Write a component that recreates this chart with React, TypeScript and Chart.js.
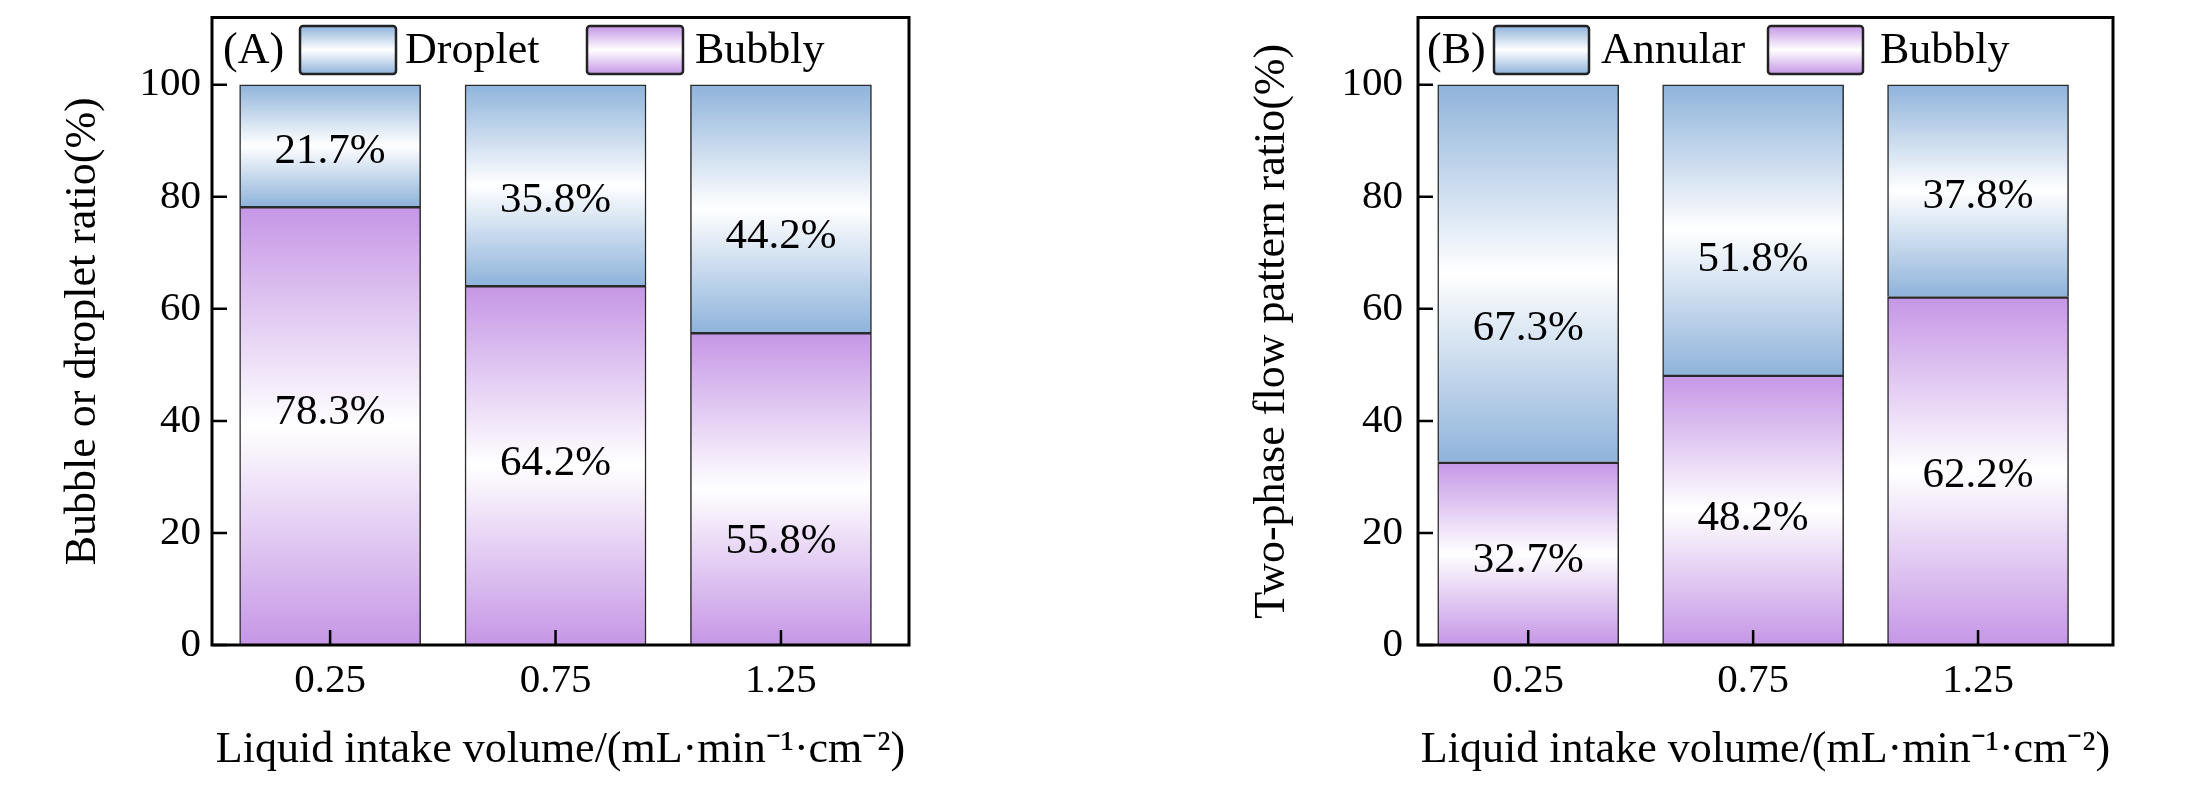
import { useEffect, useRef } from 'react';
import { Chart, registerables } from 'chart.js';

Chart.register(...registerables);

// x positions (liquid intake volume) and how they are printed
const categories = [0.25, 0.75, 1.25];
const categoryLabels = ['0.25', '0.75', '1.25'];

// (A) bubble / droplet ratio, %
const dropletA = [21.7, 35.8, 44.2];
const bubblyA = [78.3, 64.2, 55.8];
// (B) two-phase flow pattern ratio, %
const annularB = [67.3, 51.8, 37.8];
const bubblyB = [32.7, 48.2, 62.2];

// height (in % units) where each percentage text sits
const dropletTextA = [88, 79.3, 72.8];
const bubblyTextA = [41.4, 32.3, 18.5];
const annularTextB = [56.5, 68.7, 80];
const bubblyTextB = [15, 22.6, 30.3];

const SERIF = '"Liberation Serif", "Times New Roman", serif';
const BLUE = '#8fb3db';
const PURPLE = '#c596e6';

interface PanelProps {
  left: number;
  width: number;
  tag: string;
  upperName: string;
  upper: number[];
  upperText: number[];
  lower: number[];
  lowerText: number[];
  yTitle: string;
  xMin: number;
  xMax: number;
  yWidth: number;
  yTitlePad: number;
  yTickPad: number;
  padRight: number;
  legendX: number[]; // tag, box1, text1, box2, text2 offsets from chart area left
  boxW: number;
}

function fillGradient(ctx: CanvasRenderingContext2D, top: number, bottom: number, color: string) {
  const g = ctx.createLinearGradient(0, top, 0, bottom);
  g.addColorStop(0, color);
  g.addColorStop(0.5, '#ffffff');
  g.addColorStop(1, color);
  return g;
}

const panelPlugin = {
  id: 'panel',
  afterDatasetsDraw(chart: any, _args: any, opts: any) {
    const { ctx, scales } = chart;
    ctx.save();
    ctx.fillStyle = '#000';
    ctx.font = `43px ${SERIF}`;
    ctx.textAlign = 'center';
    ctx.textBaseline = 'middle';
    [opts.lower, opts.upper].forEach((s: any, d: number) => {
      const meta = chart.getDatasetMeta(d);
      s.values.forEach((v: number, i: number) => {
        const el = meta.data[i];
        ctx.fillText(v.toFixed(1) + '%', el.x, scales.y.getPixelForValue(s.textAt[i]));
      });
    });
    ctx.restore();
  },
  afterDraw(chart: any, _args: any, opts: any) {
    const { ctx, chartArea: a, scales } = chart;
    ctx.save();
    // inward ticks
    ctx.strokeStyle = '#000';
    ctx.lineWidth = 2.5;
    ctx.beginPath();
    scales.y.ticks.forEach((t: any) => {
      const py = scales.y.getPixelForValue(t.value);
      ctx.moveTo(a.left, py);
      ctx.lineTo(a.left + 15, py);
    });
    scales.x.ticks.forEach((t: any) => {
      const px = scales.x.getPixelForValue(t.value);
      ctx.moveTo(px, a.bottom);
      ctx.lineTo(px, a.bottom - 15);
    });
    ctx.stroke();
    // frame
    ctx.lineWidth = 3;
    ctx.strokeRect(a.left, a.top, a.right - a.left, a.bottom - a.top);

    // legend inside the frame
    const lx = opts.legendX;
    const by = a.top + 8.5;
    const bh = 48;
    const ty = a.top + 33.5;
    ctx.fillStyle = '#000';
    ctx.font = `44px ${SERIF}`;
    ctx.textAlign = 'left';
    ctx.textBaseline = 'middle';
    ctx.fillText(opts.tag, a.left + lx[0], ty);
    const items = [
      { name: opts.upper.name, color: BLUE, box: lx[1], text: lx[2] },
      { name: opts.lower.name, color: PURPLE, box: lx[3], text: lx[4] },
    ];
    items.forEach((it) => {
      const x = a.left + it.box;
      ctx.beginPath();
      ctx.roundRect(x, by, opts.boxW, bh, 3);
      ctx.fillStyle = fillGradient(ctx, by, by + bh, it.color);
      ctx.fill();
      ctx.lineWidth = 2.5;
      ctx.strokeStyle = '#222';
      ctx.stroke();
      ctx.fillStyle = '#000';
      ctx.fillText(it.name, a.left + it.text, ty);
    });
    ctx.restore();
  },
};

const Panel: React.FC<PanelProps> = (p) => {
  const chartRef = useRef<HTMLCanvasElement>(null);
  const chartInstanceRef = useRef<Chart | null>(null);

  useEffect(() => {
    if (!chartRef.current) return;
    const ctx = chartRef.current.getContext('2d');
    if (!ctx) return;

    // stacked ranges for each segment, used for its own gradient
    const segment = (d: number, i: number) =>
      d === 0 ? [0, p.lower[i]] : [p.lower[i], p.lower[i] + p.upper[i]];

    const segFill = (color: string) => (c: any) => {
      const chart = c.chart;
      if (!chart.chartArea || c.dataIndex === undefined) return color;
      const y = chart.scales.y;
      const [lo, hi] = segment(c.datasetIndex, c.dataIndex);
      return fillGradient(chart.ctx, y.getPixelForValue(hi), y.getPixelForValue(lo), color);
    };

    if (chartInstanceRef.current) chartInstanceRef.current.destroy();

    chartInstanceRef.current = new Chart(ctx, {
      type: 'bar',
      data: {
        datasets: [
          {
            label: 'Bubbly',
            data: categories.map((x, i) => ({ x, y: p.lower[i] })),
            backgroundColor: segFill(PURPLE),
            borderColor: '#2a2a2a',
            borderWidth: { top: 2.5, left: 1.5, right: 1.5, bottom: 0 },
            barThickness: 181,
          },
          {
            label: p.upperName,
            data: categories.map((x, i) => ({ x, y: p.upper[i] })),
            backgroundColor: segFill(BLUE),
            borderColor: '#2a2a2a',
            borderWidth: { top: 1.5, left: 1.5, right: 1.5, bottom: 0 },
            barThickness: 181,
          },
        ],
      } as any,
      options: {
        animation: false,
        responsive: true,
        maintainAspectRatio: false,
        layout: { padding: { left: 0, right: p.padRight, top: 17.5, bottom: 0 } },
        scales: {
          x: {
            type: 'linear',
            stacked: true,
            offset: false,
            min: p.xMin,
            max: p.xMax,
            afterBuildTicks: (scale: any) => {
              scale.ticks = categories.map((v) => ({ value: v }));
            },
            afterFit: (scale: any) => {
              scale.height = 142;
              scale.paddingLeft = 0;
              scale.paddingRight = 0;
            },
            ticks: {
              autoSkip: false,
              maxRotation: 0,
              padding: 12,
              color: '#000',
              font: { family: SERIF, size: 41 },
              callback: (_v: any, i: number) => categoryLabels[i],
            },
            grid: { display: false, drawTicks: false, offset: false },
            border: { display: false },
            title: {
              display: true,
              text: 'Liquid intake volume/(mL·min⁻¹·cm⁻²)',
              color: '#000',
              font: { family: SERIF, size: 44 },
              padding: { top: 0, bottom: 10.6 },
            },
          },
          y: {
            stacked: true,
            min: 0,
            max: 112,
            afterFit: (scale: any) => {
              scale.width = p.yWidth;
              scale.paddingTop = 0;
              scale.paddingBottom = 0;
            },
            ticks: {
              stepSize: 20,
              includeBounds: false,
              padding: p.yTickPad,
              color: '#000',
              font: { family: SERIF, size: 41 },
            },
            grid: { display: false, drawTicks: false },
            border: { display: false },
            title: {
              display: true,
              text: p.yTitle,
              color: '#000',
              font: { family: SERIF, size: 44 },
              padding: { top: p.yTitlePad, bottom: 0 },
            },
          },
        },
        plugins: {
          legend: { display: false },
          tooltip: { enabled: false },
          panel: {
            tag: p.tag,
            legendX: p.legendX,
            boxW: p.boxW,
            upper: { name: p.upperName, values: p.upper, textAt: p.upperText },
            lower: { name: 'Bubbly', values: p.lower, textAt: p.lowerText },
          },
        } as any,
      },
      plugins: [panelPlugin],
    });

    return () => {
      if (chartInstanceRef.current) {
        chartInstanceRef.current.destroy();
        chartInstanceRef.current = null;
      }
    };
  }, []);

  return (
    <div style={{ position: 'absolute', left: p.left, top: 0, width: p.width, height: 787 }}>
      <canvas ref={chartRef}></canvas>
    </div>
  );
};

export default function App() {
  useEffect(() => {
    document.body.style.margin = '0';
  }, []);

  return (
    <div style={{ position: 'absolute', left: 0, top: 0, width: 2191, height: 787, background: '#fff' }}>
      <Panel
        left={0}
        width={1000}
        tag="(A)"
        upperName="Droplet"
        upper={dropletA}
        upperText={dropletTextA}
        lower={bubblyA}
        lowerText={bubblyTextA}
        yTitle="Bubble or droplet ratio(%)"
        xMin={-0.012}
        xMax={1.534}
        yWidth={212}
        yTitlePad={56.6}
        yTickPad={11}
        padRight={91}
        legendX={[11, 88, 193, 375, 483]}
        boxW={96}
      />
      <Panel
        left={1180}
        width={1011}
        tag="(B)"
        upperName="Annular"
        upper={annularB}
        upperText={annularTextB}
        lower={bubblyB}
        lowerText={bubblyTextB}
        yTitle="Two-phase flow pattern ratio(%)"
        xMin={0.005}
        xMax={1.55}
        yWidth={238}
        yTitlePad={65.6}
        yTickPad={15}
        padRight={78}
        legendX={[9, 76, 183, 350, 462]}
        boxW={95}
      />
    </div>
  );
}
